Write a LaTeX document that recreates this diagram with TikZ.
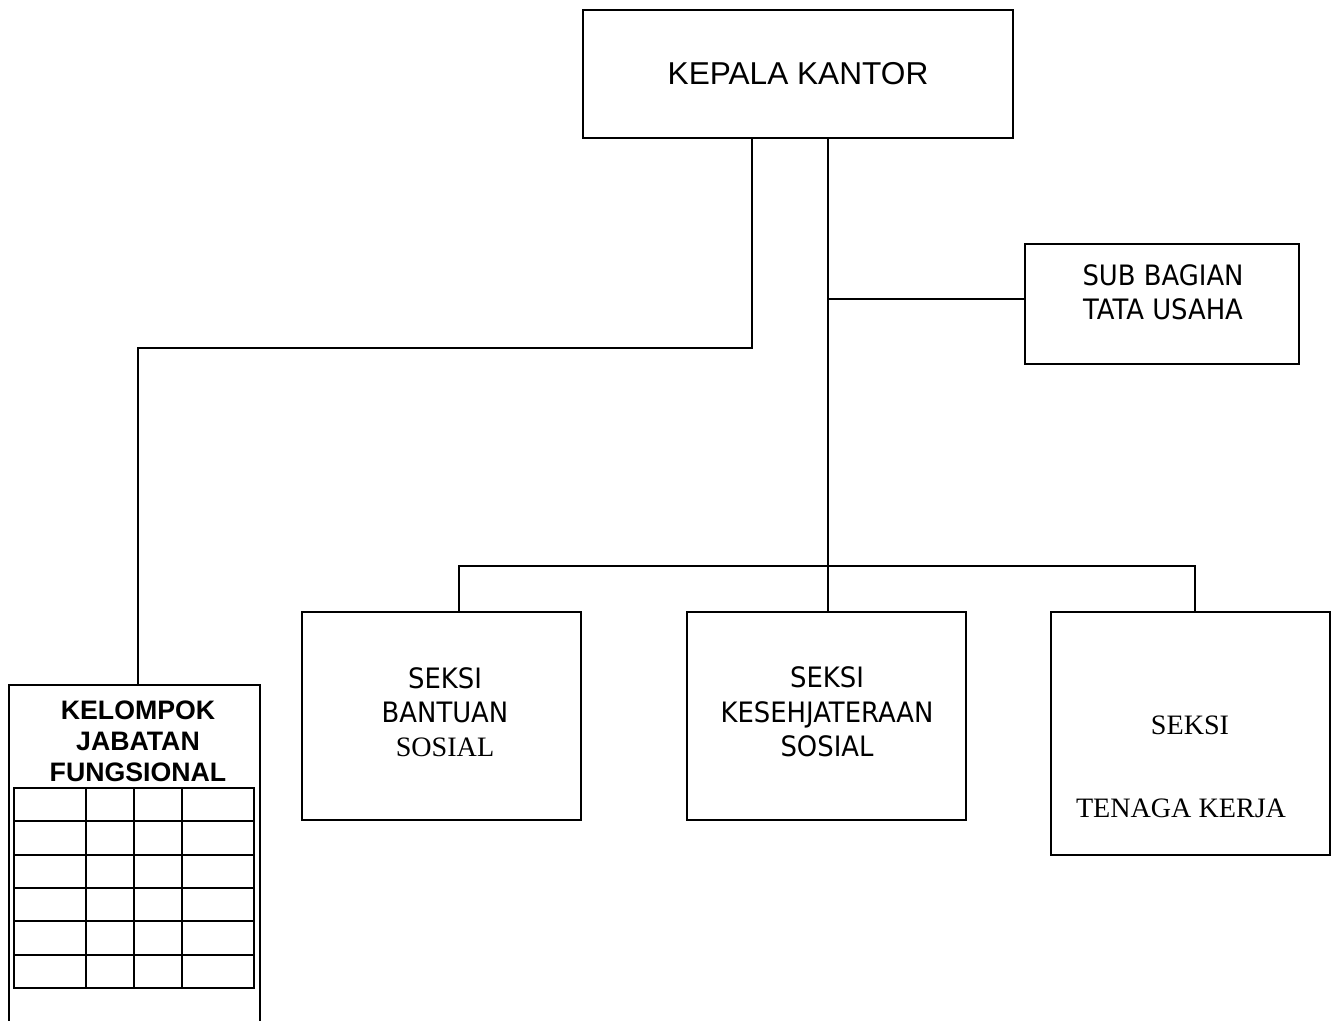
\documentclass[tikz,border=0pt]{standalone}
\usepackage{fontspec}
\newfontfamily\arialfont{Liberation Sans}
\newfontfamily\tahomafont[FakeStretch=0.92]{DejaVu Sans}
\newfontfamily\timesfont{Liberation Serif}
\usetikzlibrary{positioning}

\tikzset{
  box/.style={draw, line width=1pt, inner sep=0pt},
  lbl/.style={align=center, font=\tahomafont\fontsize{16}{19.5}\selectfont},
  tms/.style={align=center, font=\timesfont\fontsize{16}{19.5}\selectfont},
  conn/.style={line width=1pt},
}

\begin{document}
\begin{tikzpicture}[x=0.02cm,y=-0.02cm]
  \useasboundingbox (0,0) rectangle (1337,1020);
  % boxes
  \node[box, minimum width=8.6cm, minimum height=2.56cm,
        font=\arialfont\fontsize{18}{22}\selectfont] (kk) at (798,74) {KEPALA KANTOR};
  \node[box, minimum width=5.48cm, minimum height=2.4cm] (sub) at (1162,304) {};
  \node[box, minimum width=5.58cm, minimum height=4.16cm] (bs) at (441.5,716) {};
  \node[box, minimum width=5.58cm, minimum height=4.16cm] (ks) at (826.5,716) {};
  \node[box, minimum width=5.58cm, minimum height=4.86cm] (tk) at (1190.5,733.5) {};
  \node[box, minimum width=5.02cm, minimum height=7.2cm, anchor=north] (kjf) at (134.5,684) {};

  % texts
  \node[lbl] (subtxt) at (1163,292) {SUB BAGIAN\\TATA USAHA};
  \node[lbl] (bstxt) at (445,712) {SEKSI\\BANTUAN\\{\timesfont SOSIAL}};
  \node[lbl] (kstxt) at (827,712) {SEKSI\\KESEHJATERAAN\\SOSIAL};
  \node[tms] (tktxta) at (1190,725) {SEKSI};
  \node[tms] (tktxtb) at (1181,808) {TENAGA KERJA};
  \node[align=center, font=\arialfont\bfseries\fontsize{15.2}{17.6}\selectfont]
    (kjftxt) at (138,741) {KELOMPOK\\JABATAN\\FUNGSIONAL};

  % table
  \draw[conn] (14,788) rectangle (254,988);
  \foreach \r in {1,...,5}
    \draw[conn] (14,{788+\r*33.33}) -- (254,{788+\r*33.33});
  \foreach \c in {86,134,182}
    \draw[conn] (\c,788) -- (\c,988);

  % connectors
  \coordinate (kiri) at (752,348);
  \coordinate (bus) at (828,566);
  \draw[conn] (kk.south -| kiri) -- (kiri) -| ([xshift=0.07cm]kjf.north);
  \draw[conn] (kk.south -| bus) -- (bus);
  \draw[conn] ([yshift=0.1cm]sub.west) -- ([yshift=0.1cm]sub.west -| bus);
  \draw[conn] ([xshift=0.35cm]bs.north) |- (bus) -| ([xshift=0.09cm]tk.north);
  \draw[conn] (bus) -- (bus |- ks.north);
\end{tikzpicture}
\end{document}
